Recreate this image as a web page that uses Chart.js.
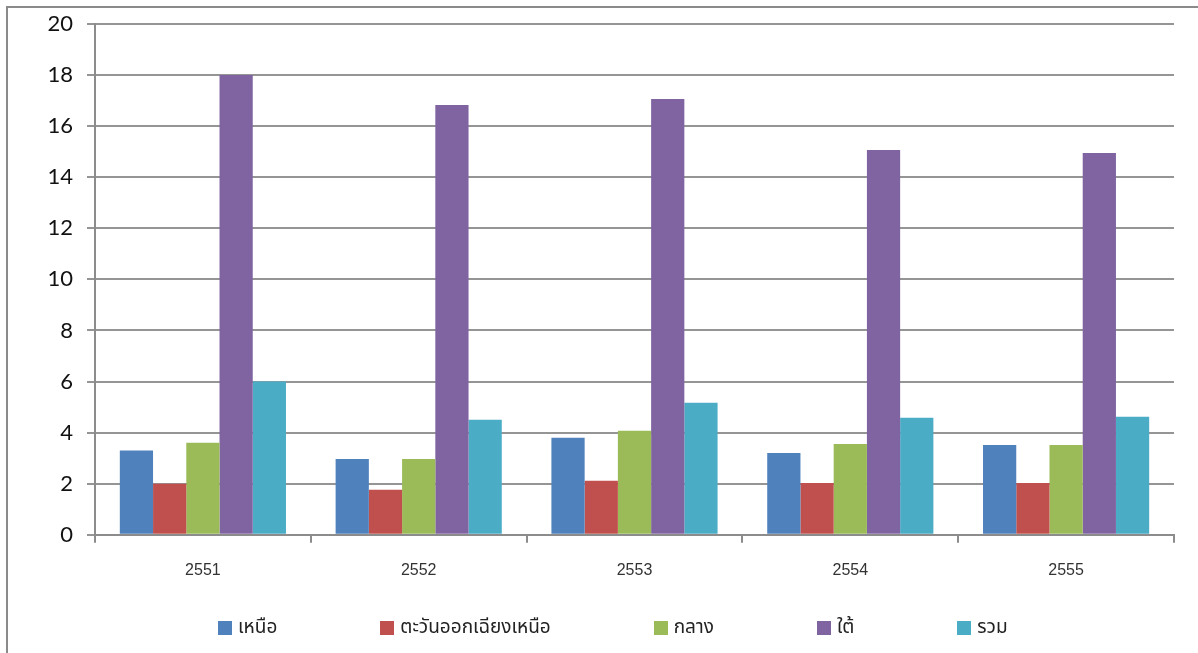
<!DOCTYPE html>
<html>
<head>
<meta charset="utf-8">
<script src="https://cdn.jsdelivr.net/npm/chart.js@4.4.1/dist/chart.umd.min.js"></script>
<style>
  body { margin: 0; background: #fff; overflow: hidden; }
  #frame {
    position: absolute; left: 6px; top: 6px; width: 1300px; height: 800px;
    border: 2px solid #8a8a8a; box-sizing: border-box;
  }
  #wrap { position: absolute; left: 0; top: 0; width: 1198px; height: 653px; }
  #legend {
    position: absolute; left: 218px; top: 613px; display: flex; gap: 103px;
    font-family: "Noto Sans Thai", "Noto Sans", "DejaVu Sans", sans-serif;
    font-size: 19px; color: #222; white-space: nowrap;
  }
  #legend span.item { display: flex; align-items: center; }
  #legend span.box { width: 14px; height: 14px; margin-right: 6px; display: inline-block; }
</style>
</head>
<body>
<div id="frame"></div>
<div id="wrap"><canvas id="grafico"></canvas></div>
<div id="legend"></div>
<script>
const anos = ["2551", "2552", "2553", "2554", "2555"];
const nomes = ["เหนือ", "ตะวันออกเฉียงเหนือ", "กลาง", "ใต้", "รวม"];
const cores = ["#4F81BD", "#C0504D", "#9BBB59", "#8064A2", "#4BACC6"];

const norte = [3.3, 2.97, 3.8, 3.2, 3.52];
const nordeste = [2.0, 1.76, 2.12, 2.03, 2.03];
const centro = [3.6, 2.97, 4.07, 3.56, 3.52];
const sul = [18.0, 16.83, 17.06, 15.07, 14.95];
const total = [6.0, 4.5, 5.17, 4.58, 4.62];

const ticksY = [0, 2, 4, 6, 8, 10, 12, 14, 16, 18, 20];

const valores = [norte, nordeste, centro, sul, total];

const datasets = valores.map((v, i) => ({
  label: nomes[i],
  data: v,
  backgroundColor: cores[i],
  borderWidth: 0,
  barPercentage: 1,
  categoryPercentage: 0.77,
}));

// legenda em HTML
const legenda = document.getElementById("legend");
nomes.forEach((n, i) => {
  const item = document.createElement("span");
  item.className = "item";
  item.innerHTML = `<span class="box" style="background:${cores[i]}"></span>${n}`;
  legenda.appendChild(item);
});

const config = {
  type: "bar",
  data: { labels: anos, datasets: datasets },
  options: {
    responsive: false,
    animation: false,
    layout: { padding: { top: 24, right: 24, left: 0, bottom: 55 } },
    plugins: { legend: { display: false }, tooltip: { enabled: false } },
    scales: {
      x: {
        grid: { offset: true, drawOnChartArea: false, color: "#8c8c8c", lineWidth: 2, tickLength: 8 },
        border: { color: "#8c8c8c", width: 2 },
        ticks: {
          color: "#333",
          padding: 18,
          font: { family: "Liberation Sans", size: 16 },
        },
      },
      y: {
        min: 0,
        max: 20,
        afterBuildTicks: (s) => { s.ticks = ticksY.map((v) => ({ value: v })); },
        afterFit: (s) => { s.width = 95; s.paddingTop = 0; s.paddingBottom = 0; },
        grid: { color: "#959595", lineWidth: 2, tickLength: 8 },
        border: { color: "#8c8c8c", width: 2 },
        ticks: {
          color: "#111",
          padding: 14,
          font: { family: "Lato", size: 22 },
        },
      },
    },
  },
};

const canvas = document.getElementById("grafico");
canvas.width = 1198;
canvas.height = 653;
const meuGrafico = new Chart(canvas, config);
</script>
</body>
</html>
